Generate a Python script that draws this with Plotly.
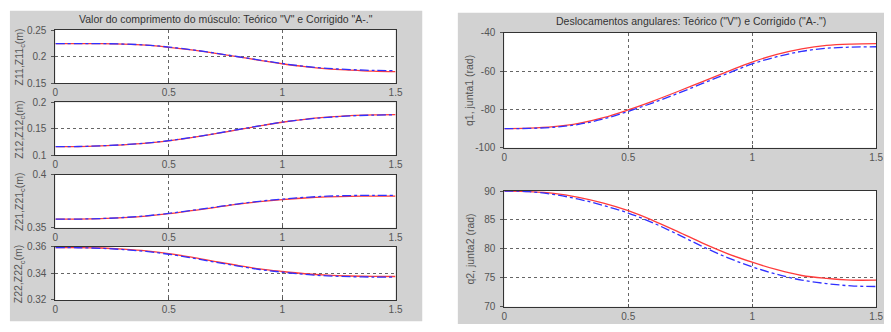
import plotly.graph_objects as go

W, H = 891, 332

t = [0.0, 0.1, 0.2, 0.3, 0.4, 0.5, 0.6, 0.7, 0.8, 0.9, 1.0, 1.1, 1.2, 1.3, 1.4, 1.5]

z11_v = [0.2245, 0.2245, 0.2243, 0.2235, 0.2215, 0.2175, 0.2125, 0.2065, 0.2000, 0.1930, 0.1865, 0.1810, 0.1770, 0.1745, 0.1725, 0.1715]
z11_a = [0.2245, 0.2245, 0.2244, 0.2237, 0.2218, 0.2180, 0.2130, 0.2068, 0.2002, 0.1935, 0.1870, 0.1815, 0.1778, 0.1755, 0.1740, 0.1735]
z12_v = [0.1165, 0.1167, 0.1180, 0.1200, 0.1230, 0.1275, 0.1335, 0.1405, 0.1480, 0.1555, 0.1625, 0.1680, 0.1720, 0.1750, 0.1765, 0.1770]
z12_a = [0.1165, 0.1168, 0.1181, 0.1202, 0.1233, 0.1278, 0.1338, 0.1408, 0.1484, 0.1558, 0.1627, 0.1680, 0.1718, 0.1745, 0.1760, 0.1765]
z21_v = [0.3580, 0.3581, 0.3585, 0.3594, 0.3610, 0.3632, 0.3660, 0.3690, 0.3720, 0.3745, 0.3765, 0.3780, 0.3790, 0.3796, 0.3798, 0.3798]
z21_a = [0.3580, 0.3581, 0.3586, 0.3596, 0.3612, 0.3635, 0.3663, 0.3693, 0.3723, 0.3749, 0.3770, 0.3786, 0.3797, 0.3803, 0.3805, 0.3805]
z22_v = [0.3595, 0.3595, 0.3592, 0.3583, 0.3570, 0.3550, 0.3523, 0.3492, 0.3462, 0.3435, 0.3415, 0.3398, 0.3387, 0.3381, 0.3378, 0.3377]
z22_a = [0.3595, 0.3594, 0.3590, 0.3580, 0.3566, 0.3545, 0.3518, 0.3487, 0.3457, 0.3430, 0.3410, 0.3393, 0.3382, 0.3376, 0.3373, 0.3372]

q1_v = [-90.0, -89.8, -89.0, -87.3, -84.3, -80.2, -75.6, -70.6, -65.4, -60.2, -55.2, -51.2, -48.3, -46.5, -45.8, -45.6]
q1_a = [-90.0, -89.9, -89.3, -87.8, -85.0, -81.0, -76.5, -71.6, -66.4, -61.2, -56.2, -52.4, -49.6, -48.0, -47.4, -47.2]
q2_v = [90.0, 89.9, 89.6, 88.9, 87.9, 86.6, 84.9, 83.0, 81.0, 79.2, 77.7, 76.4, 75.4, 74.9, 74.6, 74.6]
q2_a = [90.0, 89.9, 89.4, 88.6, 87.5, 86.2, 84.5, 82.5, 80.4, 78.5, 76.9, 75.6, 74.6, 74.0, 73.6, 73.5]

left_titles = ["Z11,Z11<sub>c</sub>(m)", "Z12,Z12<sub>c</sub>(m)", "Z21,Z21<sub>c</sub>(m)", "Z22,Z22<sub>c</sub>(m)"]
right_titles = ["q1, junta1 (rad)", "q2, junta2 (rad)"]
left_title = 'Valor do comprimento do músculo: Teórico "V" e Corrigido "A-."'
right_title = 'Deslocamentos angulares: Teórico ("V") e Corrigido ("A-.")'

x_ticks = [0, 0.5, 1, 1.5]
x_ticklabels = ["0", "0.5", "1", "1.5"]
y_ticks = [
    ([0.15, 0.2, 0.25], ["0.15", "0.2", "0.25"], [0.15, 0.25]),
    ([0.1, 0.15, 0.2], ["0.1", "0.15", "0.2"], [0.1, 0.2]),
    ([0.35, 0.4], ["0.35", "0.4"], [0.35, 0.4]),
    ([0.32, 0.34, 0.36], ["0.32", "0.34", "0.36"], [0.32, 0.36]),
    ([-100, -80, -60, -40], ["-100", "-80", "-60", "-40"], [-100, -40]),
    ([70, 75, 80, 85, 90], ["70", "75", "80", "85", "90"], [70, 90]),
]

series = [(z11_v, z11_a), (z12_v, z12_a), (z21_v, z21_a), (z22_v, z22_a), (q1_v, q1_a), (q2_v, q2_a)]

# pixel boxes: (x0, x1, y0_top, y1_bottom)
boxes = [
    (53, 397, 25, 80),
    (53, 397, 100, 155),
    (53, 397, 175, 230),
    (53, 397, 250, 305),
    (507, 883, 28, 147),
    (507, 883, 192, 312),
]

def px(x):
    return x / W

def py(y):
    return 1 - y / H

RED = "#ff3b3b"
BLUE = "#3030ff"
FONT = "Liberation Sans, Arial, sans-serif"

fig = go.Figure()
layout = dict(
    width=W, height=H,
    margin=dict(l=0, r=0, t=0, b=0),
    paper_bgcolor="white",
    plot_bgcolor="rgba(0,0,0,0)",
    showlegend=False,
    font=dict(family=FONT, size=10, color="#444"),
)

shapes = [
    dict(type="rect", xref="paper", yref="paper", x0=px(7), x1=px(424), y0=py(327), y1=py(5),
         fillcolor="#d2d2d2", line=dict(width=0), layer="below"),
    dict(type="rect", xref="paper", yref="paper", x0=px(460), x1=px(891), y0=py(330), y1=py(7),
         fillcolor="#d2d2d2", line=dict(width=0), layer="below"),
]

for i, ((x0, x1, y0, y1), (v, a), (tv, tt, rng)) in enumerate(zip(boxes, series, y_ticks)):
    n = i + 1
    xa = "x" if n == 1 else f"x{n}"
    ya = "y" if n == 1 else f"y{n}"
    shapes.append(dict(type="rect", xref="paper", yref="paper", x0=px(x0), x1=px(x1), y0=py(y1), y1=py(y0),
                       fillcolor="white", line=dict(width=0), layer="below"))
    fig.add_trace(go.Scatter(x=t, y=v, mode="lines", line=dict(color=RED, width=1.3, shape="spline"),
                             xaxis=xa, yaxis=ya))
    fig.add_trace(go.Scatter(x=t, y=a, mode="lines", line=dict(color=BLUE, width=1.3, dash="dashdot", shape="spline"),
                             xaxis=xa, yaxis=ya))
    common = dict(showline=True, mirror=True, linecolor="#333", linewidth=1,
                  tickcolor="#555", ticklen=3,
                  showgrid=True, gridcolor="#666", griddash="dot", gridwidth=1,
                  zeroline=False, tickfont=dict(size=10, color="#555", family=FONT))
    layout["xaxis" if n == 1 else f"xaxis{n}"] = dict(
        domain=[px(x0), px(x1)], anchor=ya, range=[0, 1.5], tickvals=x_ticks, ticktext=x_ticklabels,
        ticks="inside", ticklabelstandoff=0, **common)
    layout["yaxis" if n == 1 else f"yaxis{n}"] = dict(
        domain=[py(y1), py(y0)], anchor=xa, range=rng, tickvals=tv, ticktext=tt,
        ticks="outside", ticklabelstandoff=3, **common)

annotations = [
    dict(text=left_title, x=px(226), y=py(13), xref="paper", yref="paper", showarrow=False,
         font=dict(size=10.5, color="#333", family=FONT), xanchor="center", yanchor="middle"),
    dict(text=right_title, x=px(696), y=py(16), xref="paper", yref="paper", showarrow=False,
         font=dict(size=10.5, color="#333", family=FONT), xanchor="center", yanchor="middle"),
]
for i, txt in enumerate(left_titles):
    x0, x1, y0, y1 = boxes[i]
    annotations.append(dict(text=txt, x=px(17), y=py((y0 + y1) / 2), xref="paper", yref="paper",
                            showarrow=False, textangle=-90, font=dict(size=10.5, color="#555", family=FONT),
                            xanchor="center", yanchor="middle"))
for j, txt in enumerate(right_titles):
    x0, x1, y0, y1 = boxes[4 + j]
    annotations.append(dict(text=txt, x=px(472), y=py((y0 + y1) / 2), xref="paper", yref="paper",
                            showarrow=False, textangle=-90, font=dict(size=10.5, color="#555", family=FONT),
                            xanchor="center", yanchor="middle"))

layout["shapes"] = shapes
layout["annotations"] = annotations
fig.update_layout(**layout)
fig.write_html("out.html", config={"displayModeBar": False},
               post_script="document.body.style.margin='0';document.body.style.overflow='hidden';")
